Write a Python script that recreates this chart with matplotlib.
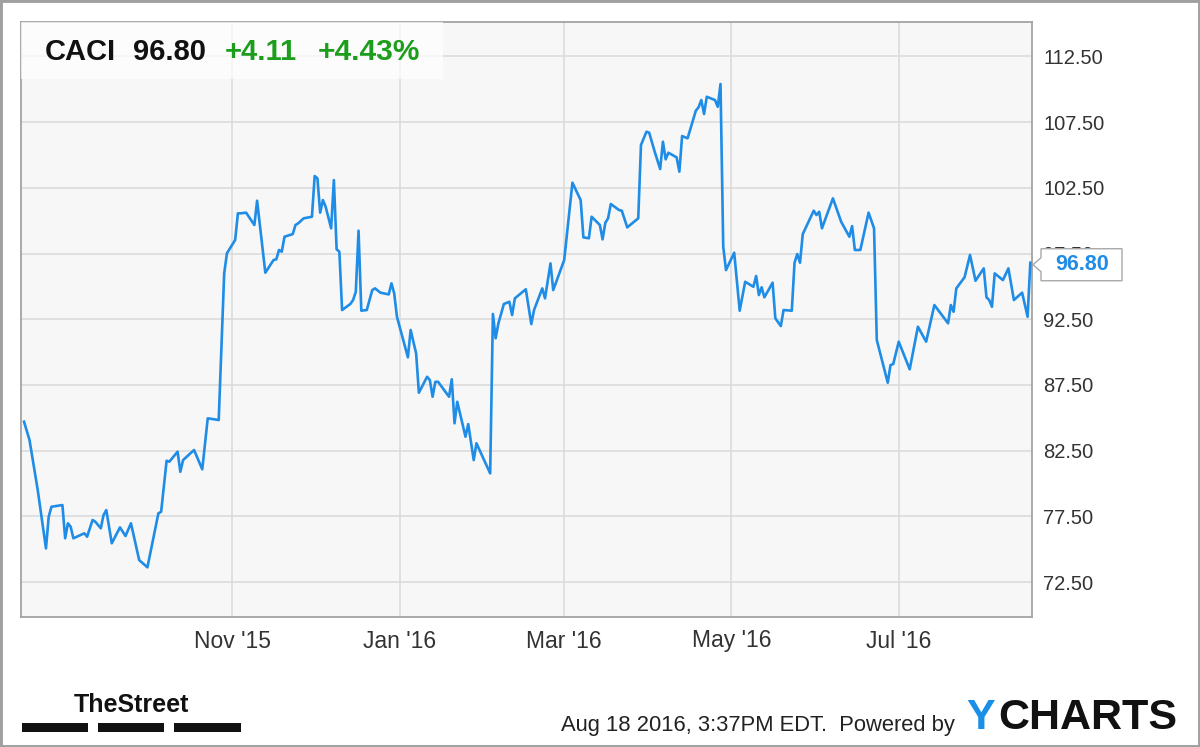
import matplotlib
matplotlib.use("Agg")
import matplotlib.pyplot as plt
import matplotlib.dates as mdates
import pandas as pd
from matplotlib import font_manager
from matplotlib.patches import Rectangle, Polygon
from matplotlib.transforms import IdentityTransform

# CACI daily close
dates = [
    "2015-08-17", "2015-08-19", "2015-08-22", "2015-08-25", "2015-08-26", "2015-08-27", "2015-08-31",
    "2015-09-01", "2015-09-02", "2015-09-03", "2015-09-04", "2015-09-08", "2015-09-09", "2015-09-11",
    "2015-09-12", "2015-09-14", "2015-09-15", "2015-09-16", "2015-09-18", "2015-09-21", "2015-09-23",
    "2015-09-25", "2015-09-28",
    "2015-10-01", "2015-10-05", "2015-10-06", "2015-10-08", "2015-10-09", "2015-10-12", "2015-10-13",
    "2015-10-14", "2015-10-18", "2015-10-21", "2015-10-23", "2015-10-27", "2015-10-29", "2015-10-30",
    "2015-11-02", "2015-11-03", "2015-11-04", "2015-11-06", "2015-11-09", "2015-11-10", "2015-11-13",
    "2015-11-16", "2015-11-17", "2015-11-18", "2015-11-19", "2015-11-20", "2015-11-23", "2015-11-24",
    "2015-11-25", "2015-11-27", "2015-11-30",
    "2015-12-01", "2015-12-02", "2015-12-03", "2015-12-04", "2015-12-05", "2015-12-07", "2015-12-08",
    "2015-12-09", "2015-12-10", "2015-12-11", "2015-12-14", "2015-12-15", "2015-12-16", "2015-12-17",
    "2015-12-18", "2015-12-20", "2015-12-22", "2015-12-23", "2015-12-25", "2015-12-28", "2015-12-29",
    "2015-12-30", "2015-12-31",
    "2016-01-04", "2016-01-05", "2016-01-07", "2016-01-08", "2016-01-11", "2016-01-12", "2016-01-13",
    "2016-01-14", "2016-01-15", "2016-01-19", "2016-01-20", "2016-01-21", "2016-01-22", "2016-01-23",
    "2016-01-25", "2016-01-26", "2016-01-28", "2016-01-29",
    "2016-02-03", "2016-02-04", "2016-02-05", "2016-02-06", "2016-02-08", "2016-02-10", "2016-02-11",
    "2016-02-12", "2016-02-16", "2016-02-18", "2016-02-19", "2016-02-22", "2016-02-23", "2016-02-25",
    "2016-02-26",
    "2016-03-01", "2016-03-04", "2016-03-07", "2016-03-08", "2016-03-10", "2016-03-11", "2016-03-14",
    "2016-03-15", "2016-03-16", "2016-03-17", "2016-03-18", "2016-03-21", "2016-03-22", "2016-03-24",
    "2016-03-28", "2016-03-29", "2016-03-31",
    "2016-04-01", "2016-04-03", "2016-04-05", "2016-04-06", "2016-04-07", "2016-04-08", "2016-04-11",
    "2016-04-12", "2016-04-13", "2016-04-15", "2016-04-18", "2016-04-19", "2016-04-20", "2016-04-21",
    "2016-04-22", "2016-04-25", "2016-04-26", "2016-04-27", "2016-04-28", "2016-04-29",
    "2016-05-02", "2016-05-04", "2016-05-06", "2016-05-09", "2016-05-10", "2016-05-11", "2016-05-12",
    "2016-05-13", "2016-05-16", "2016-05-17", "2016-05-19", "2016-05-20", "2016-05-23", "2016-05-24",
    "2016-05-25", "2016-05-26", "2016-05-27", "2016-05-31",
    "2016-06-01", "2016-06-02", "2016-06-03", "2016-06-07", "2016-06-10", "2016-06-13", "2016-06-14",
    "2016-06-15", "2016-06-17", "2016-06-20", "2016-06-22", "2016-06-23", "2016-06-27", "2016-06-28",
    "2016-06-29",
    "2016-07-01", "2016-07-05", "2016-07-08", "2016-07-11", "2016-07-14", "2016-07-19", "2016-07-20",
    "2016-07-21", "2016-07-22", "2016-07-25", "2016-07-27", "2016-07-29",
    "2016-08-01", "2016-08-02", "2016-08-03", "2016-08-04", "2016-08-05", "2016-08-08", "2016-08-10",
    "2016-08-12", "2016-08-15", "2016-08-17", "2016-08-18",
]
prices = [
    84.70, 83.31, 79.50, 75.06, 77.47, 78.23, 78.36,
    75.83, 76.97, 76.71, 75.83, 76.21, 75.95, 77.22,
    77.09, 76.59, 77.60, 77.98, 75.45, 76.66, 76.00,
    76.97, 74.17,
    73.62, 77.73, 77.85, 81.73, 81.66, 82.42, 80.89,
    81.78, 82.55, 81.08, 84.96, 84.83, 95.99, 97.52,
    98.53, 100.56, 100.56, 100.61, 99.67, 101.52, 96.04,
    97.01, 97.06, 97.77, 97.64, 98.78, 98.98, 99.67,
    99.80, 100.18, 100.30,
    103.40, 103.22, 100.61, 101.57, 101.06, 99.42, 103.09,
    97.82, 97.64, 93.20, 93.66, 93.96, 94.59, 99.24,
    93.15, 93.20, 94.72, 94.85, 94.52, 94.39, 95.23,
    94.47, 92.69,
    89.60, 91.68, 89.90, 86.91, 88.12, 87.87, 86.60,
    87.74, 87.74, 86.60, 87.93, 84.58, 86.22, 85.34,
    83.56, 84.52, 81.78, 83.06,
    80.77, 92.90, 91.05, 92.19, 93.66, 93.83, 92.82,
    94.09, 94.78, 92.13, 93.20, 94.85, 94.09, 96.75,
    94.72,
    97.01, 102.89, 101.57, 98.73, 98.66, 100.30, 99.67,
    98.58, 99.84, 100.18, 101.27, 100.81, 100.76, 99.49,
    100.18, 105.76, 106.77,
    106.69, 105.25, 103.93, 106.01, 104.67, 105.17, 104.82,
    103.73, 106.44, 106.27, 108.37, 108.63, 109.18, 108.12,
    109.43, 109.18, 108.67, 110.40, 98.02, 96.24,
    97.56, 93.15, 95.35, 94.97, 95.79, 94.34, 94.93,
    94.17, 95.28, 92.57, 91.98, 93.20, 93.15, 96.80,
    97.46, 96.80, 98.98, 100.76,
    100.43, 100.68, 99.42, 101.70, 99.92, 98.78, 99.59,
    97.77, 97.77, 100.61, 99.42, 90.92, 87.67, 89.01,
    89.09,
    90.79, 88.69, 91.93, 90.79, 93.58, 92.19, 93.58,
    93.07, 94.85, 95.69, 97.39, 95.43,
    96.37, 94.17, 93.96, 93.45, 95.99, 95.48, 96.37,
    93.96, 94.52, 92.69, 96.80,
]

tick_dates = ["2015-11-01", "2016-01-01", "2016-03-01", "2016-05-01", "2016-07-01"]
tick_labels = ["Nov '15", "Jan '16", "Mar '16", "May '16", "Jul '16"]
y_ticks = [72.5, 77.5, 82.5, 87.5, 92.5, 97.5, 102.5, 107.5, 112.5]

ticker = "CACI"
last_price = "96.80"
change = "+4.11"
change_pct = "+4.43%"
stamp = "Aug 18 2016, 3:37PM EDT.  Powered by"

LINE = "#1f8ce6"
GREEN = "#1c9e1c"
TXT = "#333333"

installed = {f.name for f in font_manager.fontManager.ttflist}
SANS = "Liberation Sans" if "Liberation Sans" in installed else "DejaVu Sans"
plt.rcParams["font.family"] = SANS

W, H = 1200, 747
fig = plt.figure(figsize=(W / 100, H / 100), dpi=100)
fig.patch.set_facecolor("white")
ax = fig.add_axes([21 / W, 1 - 617 / H, 1011 / W, 595 / H])
ax.set_facecolor("#f7f7f7")

x = pd.to_datetime(dates)
ax.plot(x, prices, color=LINE, lw=1.9, solid_joinstyle="round", zorder=3)

ax.set_xlim(pd.Timestamp("2015-08-15 21:30"), pd.Timestamp("2016-08-18 14:30"))
ax.set_ylim(69.84, 115.12)

ax.set_xticks(pd.to_datetime(tick_dates))
ax.set_xticklabels(tick_labels)
ax.yaxis.tick_right()
ax.set_yticks(y_ticks)
ax.set_yticklabels(["%.2f" % v for v in y_ticks])
ax.tick_params(axis="x", length=0, pad=9, labelsize=16.5, labelcolor=TXT)
ax.tick_params(axis="y", length=0, pad=8, labelsize=14.5, labelcolor=TXT)

ax.grid(True, color="#dcdcdc", lw=1.2)
ax.set_axisbelow(True)
for s in ax.spines.values():
    s.set_color("#a3a3a3")
    s.set_linewidth(1.3)

# header box
ax.add_patch(Rectangle((0, 1 - 57 / 595), 422 / 1011, 57 / 595, transform=ax.transAxes,
                       facecolor="white", alpha=0.7, edgecolor="none", zorder=4))
hy = (617 - 60) / 595
ax.text(24 / 1011, hy, ticker, transform=ax.transAxes, fontsize=21, fontweight="bold",
        color="#111111", va="baseline", zorder=5)
ax.text(112 / 1011, hy, last_price, transform=ax.transAxes, fontsize=21, fontweight="bold",
        color="#111111", va="baseline", zorder=5)
ax.text(204 / 1011, hy, change, transform=ax.transAxes, fontsize=21, fontweight="bold",
        color=GREEN, va="baseline", zorder=5)
ax.text(297 / 1011, hy, change_pct, transform=ax.transAxes, fontsize=21.5, fontweight="bold",
        color=GREEN, va="baseline", zorder=5)

# last price tag on the right axis
xr = ax.transAxes.transform((1, 0))[0]
yc = ax.transData.transform((mdates.date2num(x[-1]), prices[-1]))[1] - 2
tag = Polygon([(xr + 1, yc), (xr + 9, yc + 7), (xr + 9, yc + 16), (xr + 90, yc + 16),
               (xr + 90, yc - 16), (xr + 9, yc - 16), (xr + 9, yc - 7)],
              closed=True, transform=IdentityTransform(), facecolor="white",
              edgecolor="#a8a8a8", lw=1.0, zorder=10)
fig.add_artist(tag)
fig.text((xr + 50) / W, yc / H, last_price, ha="center", va="center", fontsize=15.5,
         fontweight="bold", color=LINE, zorder=11)

# footer
for x0, x1 in [(22, 88), (98, 164), (174, 241)]:
    fig.add_artist(Rectangle((x0 / W, 15 / H), (x1 - x0) / W, 9 / H, transform=fig.transFigure,
                             facecolor="#111111", edgecolor="none"))
fig.text(131 / W, (H - 712) / H, "TheStreet", fontsize=18, fontweight="bold",
         color="#111111", va="baseline", ha="center")
fig.text(561 / W, (H - 731.5) / H, stamp, fontsize=15.8, color="#222222",
         va="baseline")
fig.text(966 / W, (H - 729) / H, "Y", fontsize=31, fontweight="bold", color="#1a8fe8",
         va="baseline")
fig.text(1177 / W, (H - 729) / H, "CHARTS", fontsize=31, fontweight="bold", color="#111111",
         va="baseline", ha="right")

fig.add_artist(Rectangle((0, 0), 1, 1, transform=fig.transFigure, fill=False,
                         edgecolor="#a0a0a0", lw=3.5))

fig.savefig("out.png", dpi=100)
